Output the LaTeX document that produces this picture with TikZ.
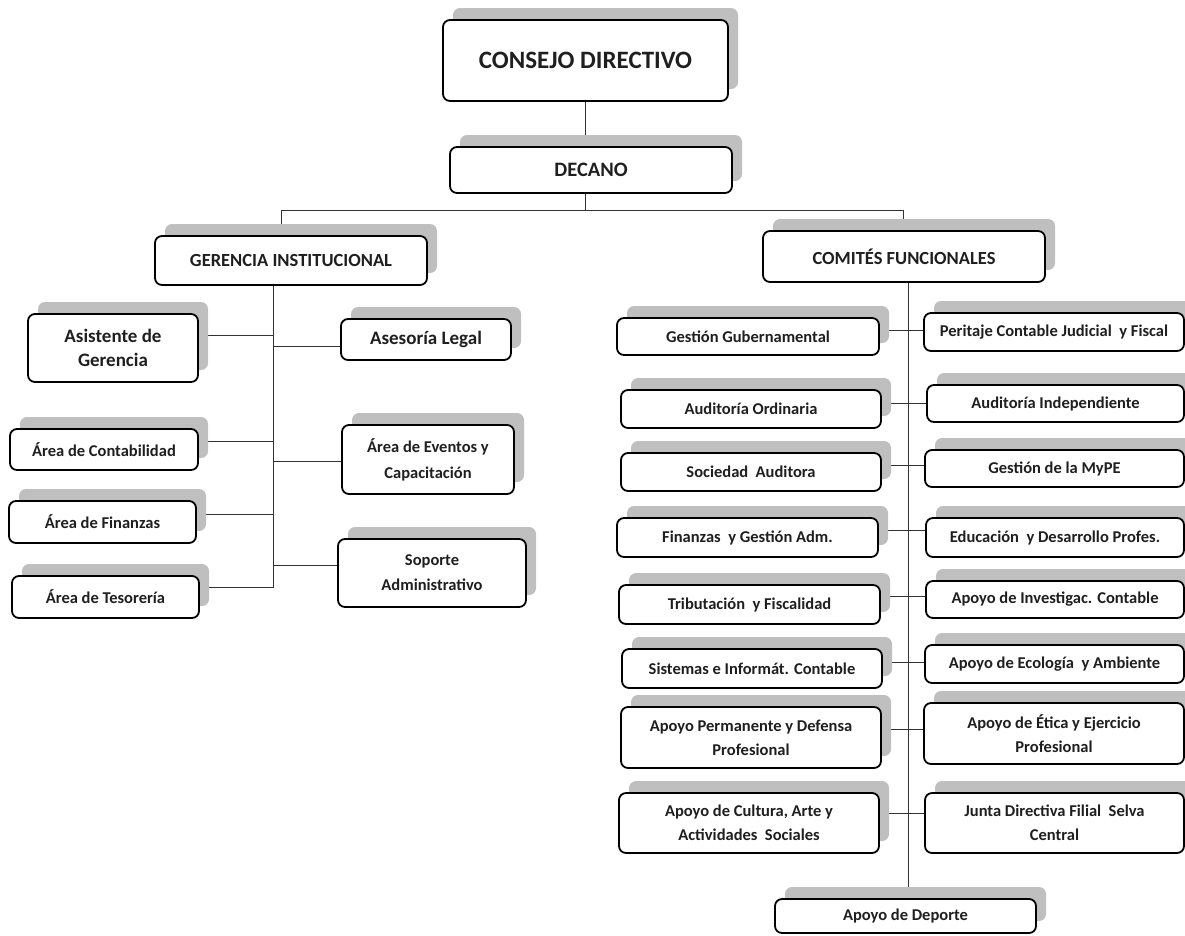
\documentclass[tikz,border=0pt]{standalone}
\usepackage{fontspec}
\setmainfont{Carlito}
\usetikzlibrary{shadows}
\pgfdeclarelayer{back}
\pgfsetlayers{back,main}
\tikzset{
  org/.style={draw=black, line width=1.8pt, rounded corners=7pt, fill=white,
    align=center, text=black!88, inner sep=2pt,
    general shadow={fill=black!25, shadow xshift=10pt, shadow yshift=12pt}},
  link/.style={draw=black!80, line width=0.9pt},
}
% name, x1, y1, x2, y2, font size, baselineskip, text
\newcommand\orgbox[8]{%
  \node[org, minimum width={(#4-#2)*1pt}, minimum height={(#5-#3)*1pt},
    font=\fontsize{#6pt}{#7pt}\selectfont\bfseries]
    (#1) at ({(#2+#4)/2},{(#3+#5)/2}) {#8};}
\begin{document}
\begin{tikzpicture}[x=1pt,y=-1pt]
\useasboundingbox (0,0) rectangle (1185,935);
% top
\orgbox{cons}{443}{20}{728}{101}{25}{30}{CONSEJO DIRECTIVO}
\orgbox{dec}{450}{147}{732}{193}{20.5}{24}{DECANO}
\orgbox{ger}{155}{236}{427}{285}{18.5}{22}{GERENCIA INSTITUCIONAL}
\orgbox{com}{763}{231}{1045}{282}{18.5}{22}{COMITÉS FUNCIONALES}
% gerencia
\orgbox{asis}{28}{314}{198}{382}{19}{24}{Asistente de\\Gerencia}
\orgbox{ases}{341}{319}{511}{360}{19}{22}{Asesoría Legal}
\orgbox{cont}{10}{429}{198}{470}{16.5}{20}{Área de Contabilidad}
\orgbox{even}{342}{425}{514}{494}{16.5}{26}{Área de Eventos y\\Capacitación}
\orgbox{fin}{9}{501}{196}{543}{16.5}{20}{Área de Finanzas}
\orgbox{tes}{12}{576}{199}{618}{16.5}{20}{Área de Tesorería}
\orgbox{sop}{338}{539}{526}{607}{16.5}{25}{Soporte\\Administrativo}
% comites
\orgbox{gg}{617}{318}{879}{355}{16.5}{20}{Gestión Gubernamental}
\orgbox{per}{924}{313}{1184}{351}{16.5}{20}{Peritaje Contable Judicial\ \ y Fiscal}
\orgbox{ao}{621}{390}{881}{428}{16.5}{20}{Auditoría Ordinaria}
\orgbox{ai}{927}{385}{1184}{422}{16.5}{20}{Auditoría Independiente}
\orgbox{sa}{621}{453}{881}{491}{16.5}{20}{Sociedad\ \ Auditora}
\orgbox{mype}{925}{450}{1184}{487}{16.5}{20}{Gestión de la MyPE}
\orgbox{fga}{617}{518}{878}{557}{16.5}{20}{Finanzas\ \ y Gestión Adm.}
\orgbox{edu}{926}{518}{1184}{557}{16.5}{20}{Educación\ \ y Desarrollo Profes.}
\orgbox{tri}{619}{585}{880}{624}{16.5}{20}{Tributación\ \ y Fiscalidad}
\orgbox{inv}{926}{581}{1184}{618}{16.5}{20}{Apoyo de Investigac. Contable}
\orgbox{sis}{622}{649}{882}{688}{16.5}{20}{Sistemas e Informát. Contable}
\orgbox{eco}{925}{645}{1184}{683}{16.5}{20}{Apoyo de Ecología\ \ y Ambiente}
\orgbox{ape}{621}{707}{881}{768}{16.5}{24}{Apoyo Permanente y Defensa\\Profesional}
\orgbox{eti}{924}{703}{1184}{764}{16.5}{24}{Apoyo de Ética y Ejercicio\\Profesional}
\orgbox{cul}{619}{793}{879}{853}{16.5}{24}{Apoyo de Cultura, Arte y\\Actividades\ \ Sociales}
\orgbox{jun}{925}{793}{1184}{853}{16.5}{24}{Junta Directiva Filial\ \ Selva\\Central}
\orgbox{dep}{775}{899}{1036}{933}{16.5}{20}{Apoyo de Deporte}
% helper coordinates
\coordinate (xl) at (281,210);
\coordinate (xr) at (903,210);
\coordinate (xm) at (585.5,210);
\coordinate (gsp) at (273,588);
\coordinate (rsp) at (908,888);
\begin{pgfonlayer}{back}
\draw[link] (cons.south) -- (cons.south |- dec.north);
\draw[link] (dec.south -| xm) -- (xm);
\draw[link] (ger.north -| xl) -- (xl) -- (xr) -- (xr |- com.north);
\draw[link] (ger.south -| gsp) -- (gsp);
\draw[link] (com.south -| rsp) -- (rsp);
% gerencia branches
\draw[link] (asis.east |- 0,335) -- (gsp |- 0,335);
\draw[link] (ases.west |- 0,346) -- (gsp |- 0,346);
\draw[link] (cont.east |- 0,441) -- (gsp |- 0,441);
\draw[link] (even.west |- 0,461) -- (gsp |- 0,461);
\draw[link] (fin.east |- 0,514) -- (gsp |- 0,514);
\draw[link] (sop.west |- 0,565) -- (gsp |- 0,565);
\draw[link] (tes.east |- 0,587) -- (gsp |- 0,587);
% comites branches
\draw[link] (gg.east |- 0,330) -- (per.west |- 0,330);
\draw[link] (ao.east |- 0,403) -- (ai.west |- 0,403);
\draw[link] (sa.east |- 0,465) -- (mype.west |- 0,465);
\draw[link] (fga.east |- 0,530) -- (edu.west |- 0,530);
\draw[link] (tri.east |- 0,596) -- (inv.west |- 0,596);
\draw[link] (sis.east |- 0,662) -- (eco.west |- 0,662);
\draw[link] (ape.east |- 0,729) -- (eti.west |- 0,729);
\draw[link] (cul.east |- 0,813) -- (jun.west |- 0,813);
\end{pgfonlayer}
\end{tikzpicture}
\end{document}
